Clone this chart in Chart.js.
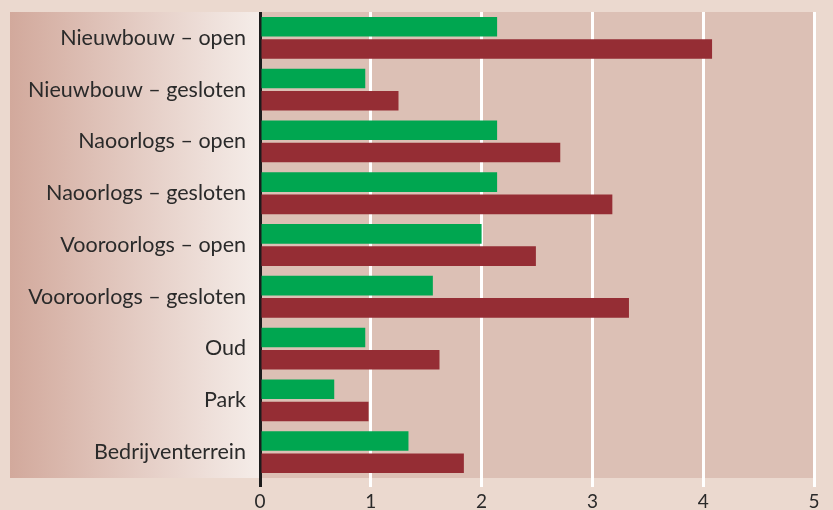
<!DOCTYPE html>
<html>
<head>
<meta charset="utf-8">
<script src="https://cdn.jsdelivr.net/npm/chart.js@4/dist/chart.umd.min.js"></script>
<style>
  html, body { margin: 0; padding: 0; background: #ebd9cf; }
  #wrap { width: 833px; height: 510px; position: relative; }
</style>
</head>
<body>
<div id="wrap"><canvas id="chart"></canvas></div>
<script>
const categories = [
    "Nieuwbouw \u2013 open",
    "Nieuwbouw \u2013 gesloten",
    "Naoorlogs \u2013 open",
    "Naoorlogs \u2013 gesloten",
    "Vooroorlogs \u2013 open",
    "Vooroorlogs \u2013 gesloten",
    "Oud",
    "Park",
    "Bedrijventerrein"
];
const greenValues = [2.14, 0.95, 2.14, 2.14, 2.0, 1.56, 0.95, 0.67, 1.34];
const redValues = [4.08, 1.25, 2.71, 3.18, 2.49, 3.33, 1.62, 0.98, 1.84];
const xTicks = [0, 1, 2, 3, 4, 5];

const FONT = "Lato, 'Open Sans', sans-serif";

// paints the panel: gradient behind the labels, flat tone behind the bars
const backdrop = {
    id: "backdrop",
    beforeDraw(chart) {
        var ctx = chart.ctx;
        var area = chart.chartArea;
        ctx.save();
        ctx.fillStyle = "#ebd9cf";
        ctx.fillRect(0, 0, chart.width, chart.height);

        var grad = ctx.createLinearGradient(10, 0, area.left, 0);
        grad.addColorStop(0, "#d2a99c");
        grad.addColorStop(1, "#f5ede9");
        ctx.fillStyle = grad;
        ctx.fillRect(10, area.top, area.left - 10, area.bottom - area.top);

        ctx.fillStyle = "#dcc0b5";
        ctx.fillRect(area.left, area.top, area.right - area.left - 1, area.bottom - area.top);
        ctx.restore();
    }
};

function noEdgePadding(scale) {
    scale.paddingTop = 0;
    scale.paddingBottom = 0;
    scale.paddingLeft = 0;
    scale.paddingRight = 0;
}

new Chart(document.getElementById("chart"), {
    type: "bar",
    data: {
        labels: categories,
        datasets: [{
            data: greenValues,
            backgroundColor: "#00a650",
            barPercentage: 0.88,
            categoryPercentage: 0.86
        }, {
            data: redValues,
            backgroundColor: "#952d34",
            barPercentage: 0.88,
            categoryPercentage: 0.86
        }]
    },
    options: {
        indexAxis: "y",
        responsive: true,
        maintainAspectRatio: false,
        animation: false,
        layout: { padding: { left: 10, right: 19, top: 12, bottom: 0 } },
        plugins: {
            legend: { display: false },
            tooltip: { enabled: false }
        },
        scales: {
            x: {
                min: 0,
                max: 5,
                afterBuildTicks(scale) {
                    scale.ticks = xTicks.map(v => ({ value: v }));
                },
                afterFit(scale) {
                    scale.height = 32;
                    noEdgePadding(scale);
                },
                grid: {
                    color: ctx => ctx.tick && ctx.tick.value === 0 ? "#1c1c1c" : "#ffffff",
                    lineWidth: 3,
                    tickLength: 9,
                    drawOnChartArea: true
                },
                border: { display: false },
                ticks: {
                    padding: 3,
                    color: "#2a2a2a",
                    font: { family: FONT, size: 19 }
                }
            },
            y: {
                afterFit(scale) {
                    scale.width = 250;
                    noEdgePadding(scale);
                },
                grid: { display: false, drawTicks: false },
                border: { display: false },
                ticks: {
                    padding: 14,
                    color: "#2a2a2a",
                    font: { family: FONT, size: 21.5 }
                }
            }
        }
    },
    plugins: [backdrop]
});
</script>
</body>
</html>
